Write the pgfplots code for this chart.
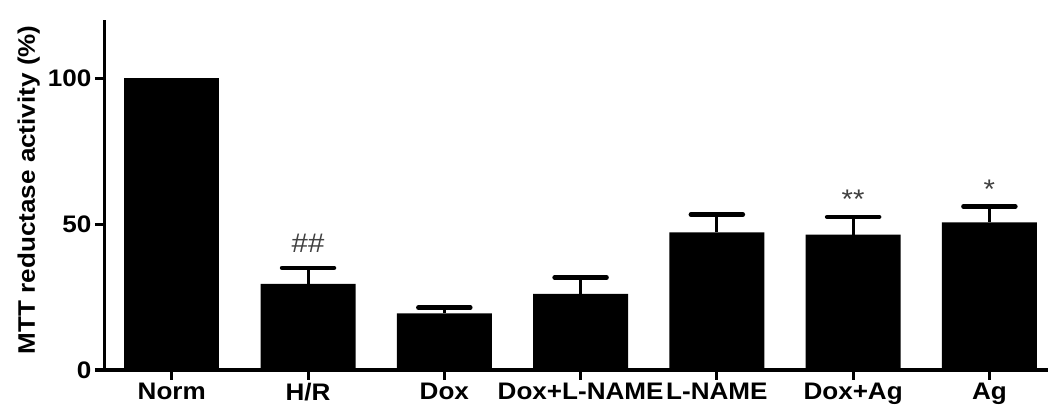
\documentclass[border=0pt]{standalone}
\usepackage{fontspec}
\setmainfont{Liberation Sans}[FakeStretch=1.09]
\usepackage{pgfplots}
\pgfplotsset{compat=1.18}
\definecolor{annot}{HTML}{404040}
\begin{document}
\begin{tikzpicture}
\begin{axis}[
  at={(0,0)}, anchor=south west,
  scale only axis, width=943bp, height=350bp,
  xmin=-0.49, xmax=6.43, ymin=0, ymax=120,
  axis x line*=bottom, axis y line*=left,
  axis line style={line width=3bp},
  xtick={0,...,6},
  xticklabels={Norm,H/R,Dox,Dox+L-NAME,L-NAME,Dox+Ag,Ag},
  ytick={0,50,100},
  tick align=outside, major tick length=10bp,
  tick style={line width=3bp, black},
  tick label style={font=\bfseries\fontsize{24}{28}\selectfont},
  label style={font=\bfseries\fontsize{24}{28}\selectfont},
  /pgf/number format/assume math mode=true,
  ylabel={MTT reductase activity (\%)},
  ylabel style={at={(axis description cs:-0.081,0.515)}, anchor=center},
  clip=false,
]
\addplot[ybar, bar width=95bp, bar shift=0pt, fill=black, draw=none]
  coordinates {(0,100)};
\addplot[ybar, bar width=95bp, bar shift=0pt, fill=black, draw=none,
  error bars/.cd, y dir=plus, y explicit,
  error bar style={line width=3bp, black},
  error mark options={rotate=90, mark size=26bp, line width=4.5bp, black, line cap=round}]
  coordinates {
    (1,29.5) +- (0,5.5)
    (2,19.4) +- (0,2.0)
    (3,26.1) +- (0,5.6)
    (4,47.2) +- (0,6.1)
    (5,46.4) +- (0,6.1)
    (6,50.6) +- (0,5.5)
  };
\node[annot, font=\fontsize{27}{30}\selectfont] at (axis cs:1,43.6) {\#\#};
\node[annot, font=\fontsize{27}{30}\selectfont] at (axis cs:5,58.5) {**};
\node[annot, font=\fontsize{27}{30}\selectfont] at (axis cs:6,62) {*};
\end{axis}
\pgfresetboundingbox
\path[use as bounding box] (-105bp,-42bp) rectangle (943bp,370bp);
\end{tikzpicture}
\end{document}
